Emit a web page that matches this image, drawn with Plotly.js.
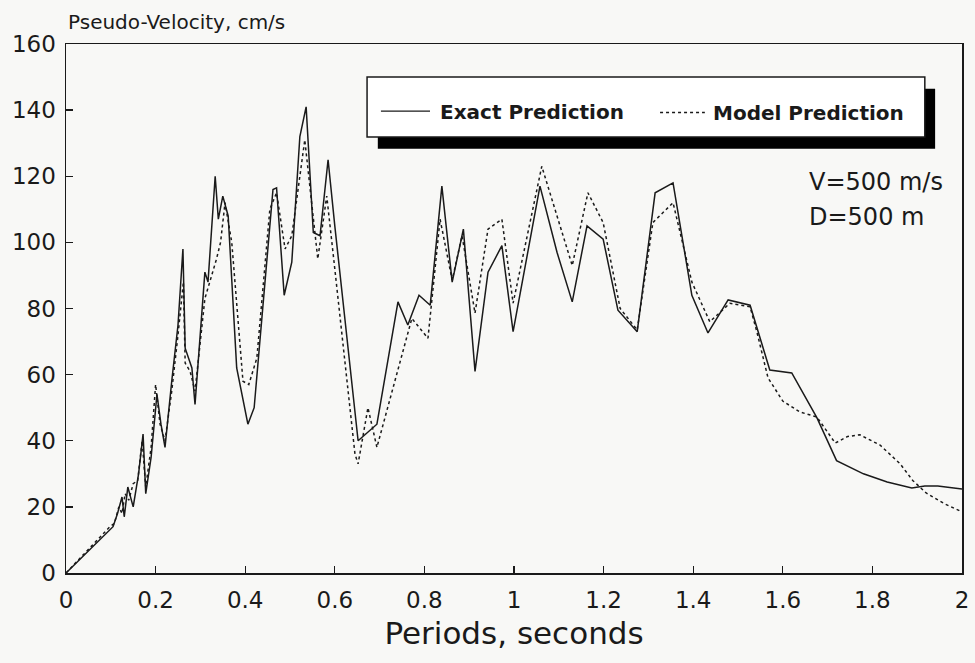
<!DOCTYPE html>
<html>
<head>
<meta charset="utf-8">
<script src="https://cdn.plot.ly/plotly-3.0.1.min.js"></script>
<style>html,body{margin:0;padding:0;background:#f8f8f6;}#chart{width:975px;height:663px;}</style>
</head>
<body>
<div id="chart"></div>
<script>
// Exact prediction (solid)
const periodsExact = [0, 0.098, 0.105, 0.115, 0.125, 0.13, 0.138, 0.15, 0.162, 0.172, 0.178, 0.19, 0.203, 0.212, 0.221, 0.236, 0.25, 0.261, 0.266, 0.281, 0.288, 0.31, 0.317, 0.333, 0.34, 0.35, 0.362, 0.381, 0.406, 0.42, 0.445, 0.462, 0.47, 0.487, 0.504, 0.522, 0.536, 0.552, 0.567, 0.585, 0.6, 0.652, 0.694, 0.741, 0.763, 0.788, 0.813, 0.839, 0.862, 0.887, 0.913, 0.942, 0.973, 0.998, 1.058, 1.096, 1.13, 1.163, 1.199, 1.232, 1.275, 1.315, 1.355, 1.397, 1.433, 1.478, 1.527, 1.571, 1.62, 1.676, 1.72, 1.78, 1.833, 1.888, 1.917, 1.946, 2.0];
const velocityExact = [0, 13, 14, 18, 23, 17, 26, 20, 30, 42, 24, 35, 54, 45, 38, 58, 75, 98, 68, 62, 51, 91, 88, 120, 107, 114, 108, 62, 45, 50, 90, 116, 116.5, 84, 94, 132, 141, 103, 102, 125, 105, 40, 45, 82, 75, 84, 81, 117, 88, 104, 61, 91, 99, 73, 117, 97, 82, 105, 101, 79.5, 73, 115, 118, 84, 72.6, 82.6, 81, 61.4, 60.5, 47, 34, 30, 27.5, 25.7, 26.3, 26.3, 25.4];

// Model prediction (dashed)
const periodsModel = [0, 0.098, 0.108, 0.118, 0.125, 0.132, 0.14, 0.15, 0.16, 0.17, 0.178, 0.19, 0.2, 0.21, 0.221, 0.236, 0.25, 0.262, 0.266, 0.277, 0.288, 0.31, 0.336, 0.345, 0.355, 0.37, 0.395, 0.408, 0.426, 0.455, 0.47, 0.489, 0.504, 0.533, 0.562, 0.582, 0.6, 0.645, 0.652, 0.674, 0.694, 0.73, 0.746, 0.772, 0.808, 0.835, 0.862, 0.884, 0.913, 0.942, 0.973, 0.998, 1.062, 1.13, 1.165, 1.199, 1.237, 1.275, 1.31, 1.355, 1.397, 1.437, 1.482, 1.527, 1.542, 1.567, 1.6, 1.638, 1.676, 1.717, 1.745, 1.772, 1.817, 1.862, 1.89, 1.92, 1.96, 2.0];
const velocityModel = [0, 14, 15, 20, 18, 24, 22, 27, 28, 40, 26, 38, 57, 45, 40, 55, 72, 88, 63.5, 61, 55, 83, 95, 100, 112, 100, 58, 57, 65, 110, 115, 98, 102, 131, 95, 114, 92, 36, 33, 50, 38, 56, 64, 77, 71, 107, 88.6, 102, 78.6, 104, 107, 81.6, 123, 93, 115, 106, 80, 73.5, 106, 112, 88, 76, 81.6, 80.5, 73, 59, 52, 48.7, 47.2, 39.3, 41.3, 41.8, 38.7, 33, 28, 24.2, 21, 18.5];

const seriesNames = ['Exact Prediction', 'Model Prediction'];
const xTitle = 'Periods, seconds';
const yTitle = 'Pseudo-Velocity, cm/s';
const notes = ['V=500 m/s', 'D=500 m'];

const ink = '#1a1a1a';
const fontFam = '"DejaVu Sans", "Liberation Sans", Arial, sans-serif';

const traces = [
  {x: periodsExact, y: velocityExact, name: seriesNames[0], mode: 'lines', line: {color: ink, width: 1.5}, showlegend: false},
  {x: periodsModel, y: velocityModel, name: seriesNames[1], mode: 'lines', line: {color: ink, width: 1.5, dash: '3px,3px'}, showlegend: false}
];

const layout = {
  width: 975, height: 663,
  margin: {l: 66, r: 13, t: 44, b: 90},
  paper_bgcolor: '#f8f8f6', plot_bgcolor: '#f8f8f6',
  font: {family: fontFam, color: ink, size: 23},
  xaxis: {
    range: [0, 2], dtick: 0.2, tick0: 0, showgrid: false, zeroline: false,
    showline: true, mirror: true, linecolor: ink, linewidth: 1.5,
    ticks: 'inside', ticklen: 7, tickcolor: ink, tickwidth: 1.3,
    ticklabelstandoff: 6,
    tickfont: {size: 23, family: fontFam, color: ink},
    title: {text: xTitle, font: {size: 31, family: fontFam, color: ink}, standoff: 10}
  },
  yaxis: {
    range: [0, 160], dtick: 20, showgrid: false, zeroline: false,
    showline: true, mirror: true, linecolor: ink, linewidth: 1.5,
    ticks: 'inside', ticklen: 7, tickcolor: ink, tickwidth: 1.3,
    ticklabelstandoff: 4,
    tickfont: {size: 23, family: fontFam, color: ink}
  },
  shapes: [
    {type: 'rect', xref: 'x', yref: 'y', x0: 0.696, x1: 1.940, y0: 128.3, y1: 146.5, fillcolor: '#000', line: {width: 0}},
    {type: 'rect', xref: 'x', yref: 'y', x0: 0.672, x1: 1.917, y0: 131.9, y1: 150.0, fillcolor: '#ffffff', line: {color: ink, width: 1.5}},
    {type: 'line', xref: 'x', yref: 'y', x0: 0.703, x1: 0.8125, y0: 139.7, y1: 139.7, line: {color: ink, width: 1.4}},
    {type: 'line', xref: 'x', yref: 'y', x0: 1.326, x1: 1.426, y0: 139.3, y1: 139.3, line: {color: ink, width: 1.4, dash: '3px,3px'}}
  ],
  annotations: [
    {xref: 'paper', yref: 'paper', x: 0.0, y: 1.0, yshift: 22, xshift: 0, xanchor: 'left', yanchor: 'middle', showarrow: false, text: yTitle, font: {size: 20, family: fontFam, color: ink}},
    {xref: 'x', yref: 'y', x: 0.83, y: 139.5, xanchor: 'left', yanchor: 'middle', showarrow: false, text: '<b>' + seriesNames[0] + '</b>', font: {size: 20, family: fontFam, color: ink}},
    {xref: 'x', yref: 'y', x: 1.44, y: 139.0, xanchor: 'left', yanchor: 'middle', showarrow: false, text: '<b>' + seriesNames[1] + '</b>', font: {size: 20, family: fontFam, color: ink}},
    {xref: 'x', yref: 'y', x: 1.655, y: 118.3, xanchor: 'left', yanchor: 'middle', showarrow: false, text: notes[0], font: {size: 24, family: fontFam, color: ink}},
    {xref: 'x', yref: 'y', x: 1.655, y: 107.7, xanchor: 'left', yanchor: 'middle', showarrow: false, text: notes[1], font: {size: 24, family: fontFam, color: ink}}
  ]
};

Plotly.newPlot('chart', traces, layout, {displayModeBar: false, staticPlot: true});
</script>
</body>
</html>
